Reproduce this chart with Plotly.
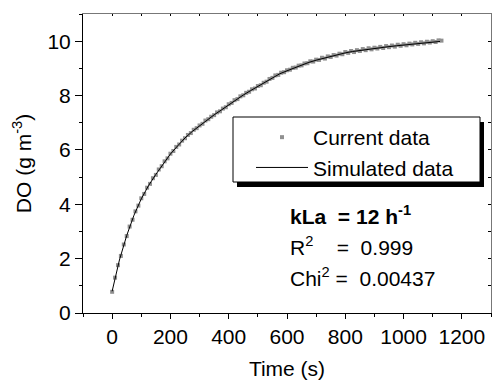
import plotly.graph_objects as go

# ---- data ----
time_obs = list(range(0, 1131, 10))
do_obs = [0.78, 1.30, 1.76, 2.10, 2.52, 2.83, 3.18, 3.43, 3.74, 3.95,
          4.22, 4.38, 4.61, 4.75, 4.96, 5.08, 5.28, 5.40, 5.58, 5.69,
          5.86, 5.96, 6.11, 6.20, 6.34, 6.43, 6.55, 6.62, 6.74, 6.80,
          6.90, 6.96, 7.08, 7.13, 7.22, 7.28, 7.38, 7.42, 7.52, 7.57,
          7.68, 7.73, 7.83, 7.87, 7.97, 8.01, 8.10, 8.14, 8.23, 8.26,
          8.35, 8.38, 8.47, 8.51, 8.61, 8.65, 8.74, 8.76, 8.84, 8.86,
          8.93, 8.95, 9.02, 9.03, 9.10, 9.11, 9.18, 9.19, 9.26, 9.25,
          9.32, 9.31, 9.39, 9.36, 9.44, 9.42, 9.49, 9.47, 9.54, 9.52,
          9.60, 9.57, 9.64, 9.60, 9.67, 9.64, 9.71, 9.67, 9.74, 9.70,
          9.76, 9.73, 9.79, 9.75, 9.82, 9.78, 9.84, 9.80, 9.87, 9.83,
          9.89, 9.85, 9.91, 9.88, 9.94, 9.90, 9.96, 9.92, 9.98, 9.95,
          10.00, 9.97, 10.03, 10.02]

time_sim = [0, 25, 50, 75, 100, 125, 150, 175, 200, 225, 250, 275, 300, 325,
            350, 375, 400, 425, 450, 475, 500, 525, 550, 575, 600, 625, 650,
            675, 700, 725, 750, 775, 800, 825, 850, 875, 900, 925, 950, 975,
            1000, 1025, 1050, 1075, 1100, 1125]
do_sim = [0.80, 1.95, 2.85, 3.60, 4.20, 4.69, 5.10, 5.49, 5.85, 6.15, 6.44,
          6.68, 6.89, 7.10, 7.29, 7.47, 7.66, 7.85, 8.02, 8.18, 8.33, 8.48,
          8.66, 8.80, 8.91, 9.02, 9.12, 9.22, 9.30, 9.37, 9.44, 9.50, 9.57,
          9.62, 9.66, 9.70, 9.73, 9.77, 9.80, 9.83, 9.86, 9.89, 9.92, 9.95,
          9.97, 9.99]

x_range = [-100, 1300]
y_range = [0, 11]
x_title = "Time (s)"
y_title = "DO (g m<sup>-3</sup>)"
legend_names = ["Current data", "Simulated data"]
stats_lines = [
    "<b>kLa\u00a0\u00a0= 12 h<sup>-1</sup></b>",
    "R<sup>2</sup>\u00a0\u00a0\u00a0\u00a0=\u00a0\u00a00.999",
    "Chi<sup>2</sup>\u00a0=\u00a0\u00a00.00437",
]

FONT = "Liberation Sans, Arial, sans-serif"
FS = 21

W, H = 492, 380
L, R, T, B = 83, 1, 14, 67
PW = W - L - R
PH = H - T - B


def px(xp):
    return (xp - L) / PW


def py(yp):
    return (H - B - yp) / PH


fig = go.Figure()
fig.add_trace(go.Scatter(
    x=time_obs, y=do_obs, mode="markers", name=legend_names[0],
    marker=dict(symbol="square", size=4, color="#909090", line=dict(width=0)),
))
fig.add_trace(go.Scatter(
    x=time_sim, y=do_sim, mode="lines", name=legend_names[1],
    line=dict(color="black", width=1),
))
# dummy trace to activate the mirrored top/right axes
fig.add_trace(go.Scatter(x=[None], y=[None], xaxis="x2", yaxis="y2",
                         showlegend=False, hoverinfo="skip"))

fig.update_layout(
    width=W, height=H,
    margin=dict(l=L, r=R, t=T, b=B, pad=0, autoexpand=False),
    paper_bgcolor="white", plot_bgcolor="white",
    font=dict(family=FONT, size=FS, color="black"),
    showlegend=True,
    legend=dict(
        x=px(251), y=py(117), xanchor="left", yanchor="top",
        bgcolor="rgba(0,0,0,0)", borderwidth=0,
        font=dict(family=FONT, size=FS), itemwidth=52,
        tracegroupgap=0,
    ),
    xaxis=dict(
        range=x_range, dtick=200, tick0=0, showgrid=False, zeroline=False,
        showline=True, linecolor="black", linewidth=1, automargin=False,
        ticks="outside", ticklen=5, tickwidth=1, tickcolor="black",
        minor=dict(dtick=100, ticks="outside", ticklen=3, tickcolor="black", showgrid=False),
        title=dict(text=x_title, standoff=14, font=dict(family=FONT, size=FS)),
        tickfont=dict(family=FONT, size=FS),
    ),
    yaxis=dict(
        range=y_range, dtick=2, tick0=0, showgrid=False, zeroline=False,
        showline=True, linecolor="black", linewidth=1, automargin=False,
        ticks="outside", ticklen=7, tickwidth=1, tickcolor="black",
        minor=dict(dtick=1, ticks="outside", ticklen=3, tickcolor="black", showgrid=False),
        title=dict(text=y_title, standoff=10, font=dict(family=FONT, size=FS)),
        tickfont=dict(family=FONT, size=FS),
    ),
    xaxis2=dict(
        overlaying="x", side="top", range=x_range, dtick=100, tick0=0,
        showticklabels=False, showgrid=False, zeroline=False, automargin=False,
        showline=True, linecolor="#777777", linewidth=1,
        ticks="inside", ticklen=2, tickcolor="black",
    ),
    yaxis2=dict(
        overlaying="y", side="right", range=y_range, dtick=1, tick0=0,
        showticklabels=False, showgrid=False, zeroline=False, automargin=False,
        showline=True, linecolor="#777777", linewidth=1,
        ticks="inside", ticklen=3, tickcolor="black",
    ),
    shapes=[
        dict(type="rect", xref="paper", yref="paper",
             x0=px(237), x1=px(484), y0=py(187), y1=py(122),
             fillcolor="black", line=dict(width=0), layer="above"),
        dict(type="rect", xref="paper", yref="paper",
             x0=px(233), x1=px(480), y0=py(182), y1=py(117),
             fillcolor="white", line=dict(color="black", width=1), layer="above"),
    ],
)

for i, (txt, yc) in enumerate(zip(stats_lines, [215, 246, 277])):
    fig.add_annotation(
        text=txt, xref="paper", yref="paper", x=px(288), y=py(yc),
        xanchor="left", yanchor="middle", showarrow=False,
        font=dict(family=FONT, size=FS, color="black"),
    )

fig.write_html(
    "out.html",
    config={"displayModeBar": False},
    post_script="document.body.style.margin='0';document.body.style.padding='0';",
)
